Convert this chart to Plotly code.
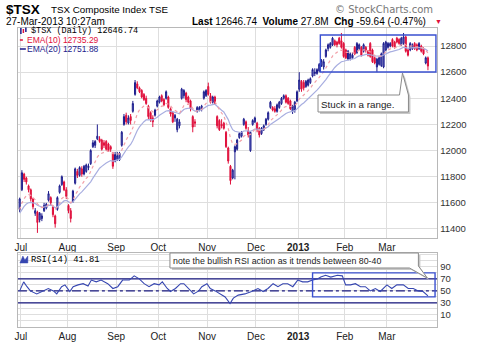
import plotly.graph_objects as go

# ---------------- data ----------------
open_ = [11550,11700,11820,11790,11730,11700,11630,11520,11530,11470,
         11480,11540,11560,11620,11640,11570,11500,11550,11680,11740,
         11760,11700,11580,11540,11610,11750,11840,11810,11860,11820,
         11840,11870,11900,12030,12040,12090,12090,12080,12060,12070,
         12050,12030,11980,11920,11930,11930,12040,12200,12270,12210,
         12260,12300,12430,12510,12480,12460,12430,12400,12340,12290,
         12250,12270,12340,12370,12420,12390,12400,12410,12320,12290,
         12250,12160,12190,12400,12420,12440,12410,12380,12260,12220,
         12300,12310,12320,12400,12420,12490,12420,12370,12410,12260,
         12230,12200,12210,12140,12020,11880,11790,11990,12010,12100,
         12110,12200,12220,12150,12000,12200,12220,12210,12170,12130,
         12160,12200,12240,12330,12330,12320,12300,12330,12360,12400,
         12420,12400,12380,12300,12310,12380,12470,12530,12520,12490,
         12500,12520,12570,12590,12590,12610,12650,12640,12720,12780,
         12790,12810,12840,12830,12860,12840,12820,12770,12700,12700,
         12710,12790,12750,12780,12790,12760,12790,12760,12820,12770,
         12710,12640,12660,12650,12640,12770,12790,12800,12850,12830,
         12860,12850,12810,12820,12870,12770,12770,12780,12820,12810,
         12780,12800,12780,12670,12710]
high = [11640,11850,11830,11800,11740,11710,11640,11560,11540,11530,
        11520,11600,11600,11690,11650,11580,11510,11650,11740,11810,
        11770,11720,11590,11560,11700,11870,11860,11880,11880,11890,
        11900,11900,12010,12080,12080,12200,12110,12090,12080,12080,
        12060,12040,11990,11990,11990,11990,12150,12280,12290,12270,
        12280,12380,12540,12530,12490,12470,12440,12420,12350,12300,
        12270,12320,12390,12420,12430,12400,12460,12420,12330,12300,
        12280,12250,12240,12480,12470,12450,12420,12390,12270,12240,
        12340,12340,12350,12460,12470,12520,12440,12420,12420,12270,
        12240,12240,12220,12150,12030,11890,11860,12040,12090,12140,
        12150,12250,12230,12180,12150,12240,12260,12220,12180,12180,
        12200,12250,12300,12380,12340,12340,12360,12380,12410,12430,
        12430,12410,12390,12350,12380,12460,12600,12540,12540,12540,
        12550,12560,12630,12630,12630,12670,12700,12700,12780,12820,
        12830,12870,12850,12840,12870,12900,12830,12780,12770,12750,
        12750,12800,12830,12820,12800,12820,12800,12770,12830,12780,
        12720,12710,12720,12750,12830,12840,12830,12830,12860,12840,
        12870,12860,12870,12900,12880,12780,12830,12820,12830,12820,
        12830,12810,12790,12720,12720]
low = [11530,11690,11760,11740,11680,11610,11550,11500,11370,11450,
       11460,11530,11550,11610,11580,11490,11410,11540,11670,11730,
       11690,11630,11520,11450,11600,11740,11790,11800,11800,11810,
       11830,11850,11890,12020,12020,12080,12060,12000,12020,12000,
       11990,11990,11860,11910,11920,11920,12030,12190,12200,12200,
       12200,12290,12420,12470,12440,12400,12380,12350,12240,12220,
       12180,12260,12330,12360,12370,12340,12390,12320,12260,12210,
       12220,12140,12170,12390,12400,12370,12360,12300,12140,12180,
       12290,12300,12300,12390,12410,12420,12360,12360,12350,12170,
       12150,12170,12160,12020,11900,11740,11780,11780,12000,12090,
       12100,12190,12160,12100,11990,12190,12210,12140,12100,12120,
       12150,12190,12230,12320,12300,12290,12290,12320,12350,12390,
       12360,12350,12310,12280,12290,12370,12450,12450,12460,12480,
       12490,12510,12560,12570,12580,12600,12640,12620,12710,12760,
       12780,12800,12800,12790,12810,12780,12710,12700,12690,12690,
       12700,12730,12740,12770,12720,12750,12750,12720,12710,12670,
       12660,12600,12650,12640,12630,12760,12780,12790,12790,12780,
       12820,12810,12800,12810,12750,12720,12760,12770,12770,12760,
       12770,12750,12730,12660,12615]
close = [11630,11830,11780,11760,11700,11630,11570,11540,11450,11520,
         11500,11580,11590,11670,11600,11510,11440,11640,11730,11800,
         11700,11650,11540,11480,11690,11860,11810,11870,11820,11880,
         11890,11880,12000,12060,12070,12110,12070,12010,12040,12010,
         12000,12010,11880,11970,11960,11980,12140,12260,12220,12250,
         12230,12360,12520,12480,12450,12410,12390,12360,12260,12240,
         12220,12310,12380,12410,12380,12350,12450,12330,12280,12220,
         12270,12240,12220,12470,12460,12390,12370,12320,12180,12210,
         12330,12330,12340,12450,12460,12430,12370,12410,12360,12190,
         12160,12190,12170,12030,11920,11770,11850,12030,12080,12130,
         12140,12240,12170,12120,12140,12230,12250,12160,12120,12170,
         12190,12240,12290,12370,12310,12300,12350,12370,12400,12420,
         12370,12360,12320,12340,12370,12450,12540,12470,12480,12530,
         12540,12550,12620,12600,12620,12660,12690,12680,12770,12810,
         12820,12860,12810,12810,12820,12790,12720,12710,12760,12740,
         12730,12740,12820,12810,12730,12810,12770,12730,12720,12680,
         12670,12700,12710,12740,12820,12830,12820,12820,12800,12790,
         12830,12820,12860,12870,12760,12730,12820,12810,12780,12770,
         12820,12760,12740,12710,12646.74]

ema10_start = 11530   # EMA levels just before the first bar
ema20_start = 11510

rsi_day = [0, 1.8, 3.3, 4.8, 7.7, 10.7, 12.9, 15.2, 16.7, 18.9, 20.4, 22.6, 24.1, 26.3, 28.6,
           30.8, 32.3, 34.5, 36.7, 39.7, 42, 44.2, 46.4, 49.4, 51.6, 53.9, 56.1, 58.3, 60.6,
           62.8, 64.3, 66.5, 68, 70.2, 72.5, 74, 76.2, 78.4, 80.7, 82.1, 84.4, 85.9, 88.1,
           90.3, 92.6, 94.8, 96.3, 98.5, 101.5, 104.5, 107.4, 109.7, 111.9, 114.2, 116.4,
           118.6, 120.8, 123.1, 125.3, 127.5, 129.8, 132, 134.2, 135.7, 137.9, 140.2, 143.2,
           145.4, 146.9, 149.1, 151.3, 153.6, 155.8, 158, 160.3, 162.5, 165.5, 167.7, 170,
           172.9, 175.1, 177.4, 179.6, 181.8, 184]
rsi_val = [50, 65, 57, 50, 45, 50, 54, 50, 45, 57, 60, 49, 57, 60, 62,
           58, 68, 65, 68, 62, 54, 57, 68, 68, 75, 70, 62, 57, 62,
           60, 65, 54, 49, 54, 62, 62, 54, 45, 50, 57, 62, 54, 50,
           45, 40, 29, 38, 43, 45, 49, 54, 49, 54, 62, 57,
           62, 62, 57, 68, 65, 65, 68, 70, 73, 76, 73, 76,
           75, 60, 60, 62, 57, 57, 50, 54, 49, 60, 54, 60,
           60, 54, 54, 50, 49, 41.81]

month_pos = [0.5, 21.5, 43.5, 62.5, 84.5, 106.5, 125.5, 146.5, 165.5]
month_lbl = ["Jul", "Aug", "Sep", "Oct", "Nov", "Dec", "<b>2013</b>", "Feb", "Mar"]
price_ticks = [11400, 11600, 11800, 12000, 12200, 12400, 12600, 12800]
rsi_ticks = [10, 30, 50, 70, 90]
range_box_days = [135.5, 187.6]
range_box_price = [12601, 12884]
rsi_box_days = [132, 187.2]
rsi_box_vals = [40, 80]

# ---------------- helpers ----------------
W, H = 480, 343
def px(x):
    return x / W
def py(y):
    return 1 - y / H
def ppath(pts):
    return "M " + " L ".join(f"{px(a):.5f},{py(b):.5f}" for a, b in pts) + " Z"

def ema(vals, n, start):
    k = 2 / (n + 1)
    e = start
    out = []
    for v in vals:
        e = e + k * (v - e)
        out.append(e)
    return out

days = list(range(len(close)))
ema10 = ema(close, 10, ema10_start)
ema20 = ema(close, 20, ema20_start)

NAVY = "#1c1c8c"
RED = "#e0103c"
GRID = "#dedede"
SANS = "Liberation Sans, Arial, sans-serif"
MONO = "Liberation Mono, Courier New, monospace"

fig = go.Figure()

fig.add_trace(go.Scatter(x=days, y=ema20, mode="lines",
                         line=dict(color="#a8aee0", width=1.2), xaxis="x", yaxis="y",
                         hoverinfo="skip"))
fig.add_trace(go.Scatter(x=days, y=ema10, mode="lines",
                         line=dict(color="#f2a0a8", width=1.2, dash="dot"), xaxis="x", yaxis="y",
                         hoverinfo="skip"))
fig.add_trace(go.Candlestick(x=days, open=open_, high=high, low=low, close=close,
                             increasing=dict(line=dict(color=NAVY, width=1), fillcolor="#7c86d6"),
                             decreasing=dict(line=dict(color=RED, width=1), fillcolor=RED),
                             whiskerwidth=0, xaxis="x", yaxis="y", hoverinfo="skip"))

# RSI reference lines
for lvl, dash in [(70, "solid"), (30, "solid"), (50, "dashdot")]:
    fig.add_trace(go.Scatter(x=[-0.8, 188.2], y=[lvl, lvl], mode="lines",
                             line=dict(color="#1a1a80", width=1.2, dash=dash),
                             xaxis="x2", yaxis="y2", hoverinfo="skip"))
fig.add_trace(go.Scatter(x=rsi_day, y=rsi_val, mode="lines",
                         line=dict(color="#3646b0", width=1.1), xaxis="x2", yaxis="y2",
                         hoverinfo="skip"))

xcommon = dict(range=[-0.8, 188.2], tickmode="array", tickvals=month_pos, ticktext=month_lbl,
               showgrid=True, gridcolor=GRID, gridwidth=1, zeroline=False,
               showline=True, linecolor="#b8b8b8", mirror=True, ticks="",
               tickfont=dict(family=SANS, size=10, color="#222"), fixedrange=True)

fig.update_layout(
    width=W, height=H, margin=dict(l=0, r=0, t=0, b=0),
    paper_bgcolor="white", plot_bgcolor="white", showlegend=False, hovermode=False,
    xaxis=dict(domain=[px(15), px(437)], anchor="y", rangeslider=dict(visible=False), **xcommon),
    yaxis=dict(domain=[py(238), py(28)], range=[11331, 12938], side="right",
               tickmode="array", tickvals=price_ticks, tickformat="d", showgrid=True, gridcolor=GRID,
               zeroline=False, showline=True, linecolor="#b8b8b8", mirror=True, ticks="",
               tickfont=dict(family=SANS, size=9.5, color="#333"), fixedrange=True),
    xaxis2=dict(domain=[px(15), px(437)], anchor="y2", **xcommon),
    yaxis2=dict(domain=[py(327), py(253)], range=[-10, 113], side="right",
                tickmode="array", tickvals=rsi_ticks, showgrid=False,
                minor=dict(tickmode="linear", tick0=0, dtick=10, showgrid=True, gridcolor=GRID),
                zeroline=False, showline=True, linecolor="#b8b8b8", mirror=True, ticks="",
                tickfont=dict(family=SANS, size=9.5, color="#333"), fixedrange=True),
)

shapes = []
# range rectangles
shapes.append(dict(type="rect", xref="x", yref="y", x0=range_box_days[0], x1=range_box_days[1],
                   y0=range_box_price[0], y1=range_box_price[1],
                   line=dict(color="#3a50d0", width=1.4), fillcolor="rgba(0,0,0,0)"))
shapes.append(dict(type="rect", xref="x2", yref="y2", x0=rsi_box_days[0], x1=rsi_box_days[1],
                   y0=rsi_box_vals[0], y1=rsi_box_vals[1],
                   line=dict(color="#3a50d0", width=1.4), fillcolor="rgba(0,0,0,0)"))

# callout "Stuck in a range."
c1 = [(317, 95), (399, 95), (402, 73), (408, 95), (408, 112), (317, 112)]
shapes.append(dict(type="path", xref="paper", yref="paper",
                   path=ppath([(a + 2, b + 2) for a, b in c1]),
                   fillcolor="#c8c8c8", line=dict(width=0)))
shapes.append(dict(type="path", xref="paper", yref="paper", path=ppath(c1),
                   fillcolor="white", line=dict(color="#8a8a8a", width=1)))
# callout RSI note
c2 = [(168, 253), (418, 253), (418, 266), (427, 278), (409, 268), (168, 268)]
shapes.append(dict(type="path", xref="paper", yref="paper",
                   path=ppath([(a + 2, b + 2) for a, b in c2]),
                   fillcolor="#c8c8c8", line=dict(width=0)))
shapes.append(dict(type="path", xref="paper", yref="paper", path=ppath(c2),
                   fillcolor="white", line=dict(color="#8a8a8a", width=1)))

# legend icons
shapes.append(dict(type="line", xref="paper", yref="paper", x0=px(17), x1=px(23), y0=py(40), y1=py(40),
                   line=dict(color=RED, width=1.5, dash="dot")))
shapes.append(dict(type="line", xref="paper", yref="paper", x0=px(17), x1=px(23), y0=py(49), y1=py(49),
                   line=dict(color=NAVY, width=1.5)))
for (a, b0, b1, col) in [(18, 28, 34, NAVY), (20.5, 29, 33, RED), (23, 27.5, 32, NAVY)]:
    shapes.append(dict(type="line", xref="paper", yref="paper", x0=px(a), x1=px(a), y0=py(b0), y1=py(b1),
                       line=dict(color=col, width=1.5)))
shapes.append(dict(type="path", xref="paper", yref="paper",
                   path=ppath([(17, 263), (20, 256), (22, 260), (25, 256), (25, 263)]),
                   fillcolor="#3646b0", line=dict(color="#3646b0", width=0.5)))
fig.update_layout(shapes=shapes)

ann = []
def T(x, y, text, size, color="#000", family=SANS, xanchor="left"):
    ann.append(dict(x=px(x), y=py(y), xref="paper", yref="paper", text=text, showarrow=False,
                    xanchor=xanchor, yanchor="middle", borderpad=0,
                    font=dict(family=family, size=size, color=color)))

T(2, 9, "<b>$TSX</b>", 13.5)
T(47, 9.5, "TSX Composite Index", 9.8)
T(146, 9.5, "TSE", 9.8)
T(2, 22, "27-Mar-2013 10:27am", 10)
T(189, 22, "<b>Last</b> 12646.74  <b>Volume</b> 27.8M  <b>Chg</b> -59.64 (-0.47%)", 10)
T(434, 22, "▼", 7, color=RED)
T(434, 9, "© StockCharts.com", 10, color="#777", family="DejaVu Sans, Verdana, sans-serif",
  xanchor="right")
T(27, 31, "$TSX (Daily) 12646.74", 8.5, family=MONO)
T(23, 40, "EMA(10) 12735.29", 8.5, color=RED)
T(23, 49, "EMA(20) 12751.88", 8.5, color=NAVY)
T(27, 259.5, "RSI(14) 41.81", 8.8, family=MONO)
T(319, 104, "Stuck in a range.", 9.8, color="#222")
T(170, 261, "note the bullish RSI action as it trends between 80-40", 8.8, color="#222")
fig.update_layout(annotations=ann)

fig.write_html("out.html")
